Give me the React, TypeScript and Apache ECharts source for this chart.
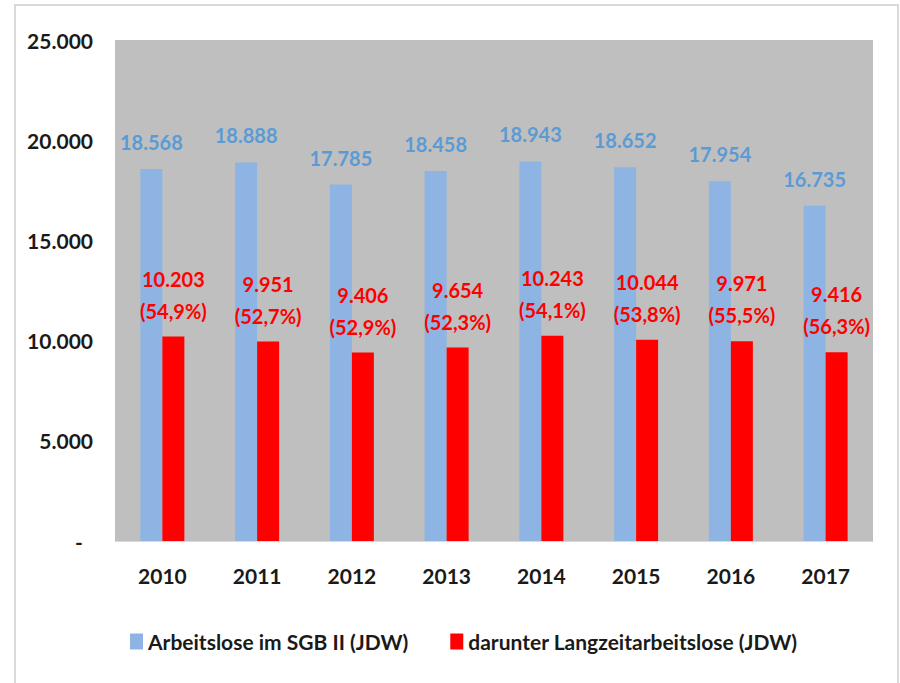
import React, { useEffect, useRef } from "react";
import * as echarts from "echarts";

const years = ["2010", "2011", "2012", "2013", "2014", "2015", "2016", "2017"];
const arbeitslose = [18568, 18888, 17785, 18458, 18943, 18652, 17954, 16735];
const langzeit = [10203, 9951, 9406, 9654, 10243, 10044, 9971, 9416];
const anteil = ["54,9", "52,7", "52,9", "52,3", "54,1", "53,8", "55,5", "56,3"];
const seriesNames = ["Arbeitslose im SGB II (JDW)", "darunter Langzeitarbeitslose (JDW)"];

const fmt = (v: number) => String(Math.round(v)).replace(/\B(?=(\d{3})+(?!\d))/g, ".");
const FONT = "Lato";

export default function App() {
  const ref = useRef<HTMLDivElement>(null);
  useEffect(() => {
    if (!ref.current) return;
    const chart = echarts.init(ref.current, null, { renderer: "svg" });
    chart.setOption({
      animation: false,
      backgroundColor: "#ffffff",
      textStyle: { fontFamily: FONT },
      graphic: [
        {
          type: "rect",
          shape: { x: 15, y: 5, width: 883, height: 700 },
          style: { fill: "none", stroke: "#d9d9d9", lineWidth: 2 },
          silent: true,
        },
      ],
      grid: {
        left: 115,
        right: 27,
        top: 40,
        bottom: 142,
        show: true,
        backgroundColor: "#bfbfbf",
        borderWidth: 0,
      },
      legend: {
        left: 125,
        top: 626,
        itemWidth: 13,
        itemHeight: 16,
        itemGap: 42,
        icon: "rect",
        textStyle: { fontFamily: FONT, fontSize: 21, color: "#1a1a1a", fontWeight: "bold" },
        data: seriesNames,
      },
      xAxis: {
        type: "category",
        data: years,
        axisLine: { show: true, lineStyle: { color: "#d9d9d9", width: 1 } },
        axisTick: { show: false },
        axisLabel: { margin: 24, fontFamily: FONT, fontSize: 21, fontWeight: "bold", color: "#1a1a1a" },
      },
      yAxis: {
        type: "value",
        min: 0,
        max: 25000,
        interval: 5000,
        splitLine: { show: false },
        axisLine: { show: false },
        axisTick: { show: false },
        axisLabel: {
          margin: 22,
          fontFamily: FONT,
          fontSize: 21,
          fontWeight: "bold",
          color: "#1a1a1a",
          formatter: (v: number) => (v === 0 ? "-  " : fmt(v)),
        },
      },
      series: [
        {
          name: seriesNames[0],
          type: "bar",
          data: arbeitslose,
          barWidth: 22,
          barGap: "0%",
          itemStyle: { color: "#8db4e2" },
          label: {
            show: true,
            position: "top",
            distance: 17,
            fontFamily: FONT,
            fontSize: 20,
            fontWeight: "bold",
            color: "#5b9bd5",
            formatter: (p: any) => fmt(p.value),
          },
        },
        {
          name: seriesNames[1],
          type: "bar",
          data: langzeit,
          barWidth: 22,
          barGap: "0%",
          itemStyle: { color: "#ff0000" },
          label: {
            show: true,
            position: "top",
            distance: 10,
            fontFamily: FONT,
            fontSize: 20,
            fontWeight: "bold",
            lineHeight: 32,
            color: "#ff0000",
            formatter: (p: any) => fmt(p.value) + "\n(" + anteil[p.dataIndex] + "%)",
          },
        },
      ],
    });
    return () => chart.dispose();
  }, []);
  return (
    <div
      ref={ref}
      style={{ position: "fixed", left: 0, top: 0, width: 900, height: 683 }}
    />
  );
}
